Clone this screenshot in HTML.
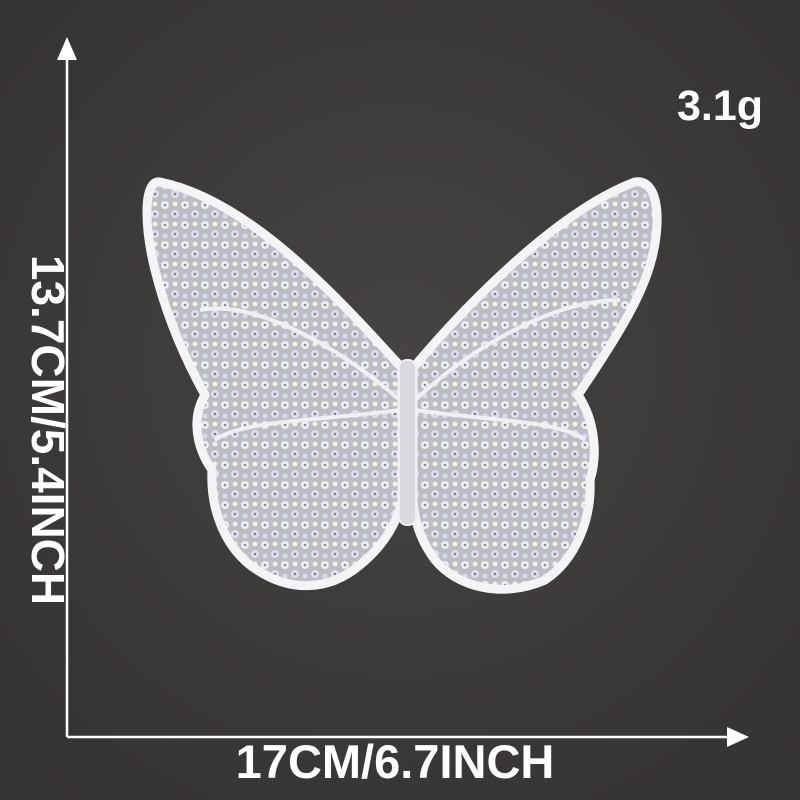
<!DOCTYPE html>
<html><head><meta charset="utf-8"><style>
html,body{margin:0;padding:0;width:800px;height:800px;overflow:hidden;background:#3b3939;}
svg{display:block}
</style></head><body>
<svg width="800" height="800" viewBox="0 0 800 800">
<defs>
<radialGradient id="bg" cx="50%" cy="45%" r="70%"><stop offset="0" stop-color="#464343"/><stop offset="1" stop-color="#353232"/></radialGradient>
<pattern id="sparkle" width="20" height="20" patternUnits="userSpaceOnUse">
<rect width="20" height="20" fill="#bdbdc4"/>
<circle cx="5" cy="5" r="4" fill="#eeeef4"/><circle cx="5" cy="5" r="1.3" fill="#8a8a99"/>
<circle cx="15" cy="14" r="4" fill="#e2deee"/><circle cx="15" cy="14" r="1.3" fill="#7f7f90"/>
<circle cx="15" cy="4" r="2.5" fill="#f4f0e2"/><circle cx="5" cy="16" r="2.5" fill="#d6dcec"/>
</pattern>
</defs>
<rect width="800" height="800" fill="url(#bg)"/>
<g stroke="#fff" stroke-width="2.5" fill="none">
<line x1="67" y1="48" x2="67" y2="737"/>
<line x1="67" y1="737" x2="738" y2="737"/>
</g>
<polygon points="67,37 57,60 77,60" fill="#fff"/>
<polygon points="749,737 727,727 727,747" fill="#fff"/>
<text x="44" y="430" transform="rotate(90 44 430)" text-anchor="middle" dominant-baseline="middle" font-family="Liberation Sans, sans-serif" font-weight="bold" font-size="46" fill="#fff">13.7CM/5.4INCH</text>
<text x="395" y="778" text-anchor="middle" font-family="Liberation Sans, sans-serif" font-weight="bold" font-size="47" fill="#fff">17CM/6.7INCH</text>
<text x="720" y="120" text-anchor="middle" font-family="Liberation Sans, sans-serif" font-weight="bold" font-size="43" fill="#fff">3.1g</text>
<g>
<path d="M402,368 C340,300 250,200 160,182 C142,180 145,230 155,270 C165,310 180,350 205,395 C190,420 198,450 212,470 C210,510 225,545 250,565 C290,595 330,590 360,565 C385,545 398,520 402,500 Z" fill="url(#sparkle)" stroke="#f4f4f6" stroke-width="9" stroke-linejoin="round"/>
<path d="M413,368 C470,300 560,210 635,182 C660,178 662,225 650,265 C640,300 615,340 578,395 C595,420 598,455 590,480 C592,520 575,560 545,580 C500,600 455,585 435,560 C420,540 414,520 413,500 Z" fill="url(#sparkle)" stroke="#f4f4f6" stroke-width="9" stroke-linejoin="round"/>
<path d="M400,400 C330,340 250,300 200,310 M400,410 C330,420 240,420 215,440 M415,400 C480,340 560,300 620,300 M415,410 C480,420 560,420 585,440" stroke="#f0f0f4" stroke-width="4" fill="none"/>
<rect x="399" y="360" width="17" height="165" rx="8" fill="#d8d8de" stroke="#f0f0f4" stroke-width="2"/>
</g>
</svg>
</body></html>
